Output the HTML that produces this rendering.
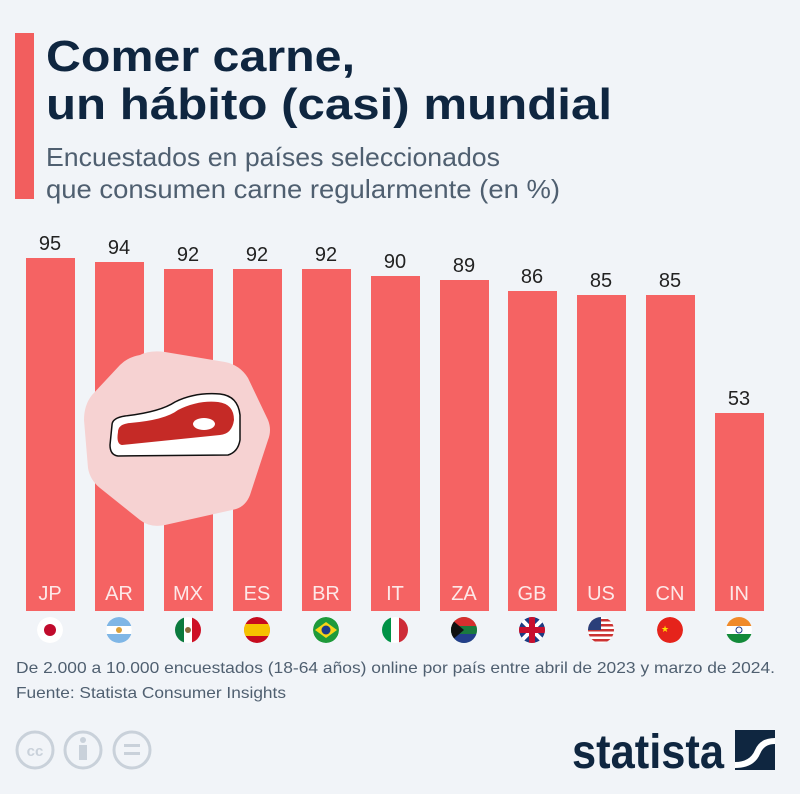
<!DOCTYPE html>
<html><head><meta charset="utf-8"><style>
body{margin:0;background:#f1f4f8;}
svg{display:block;font-family:"Liberation Sans","DejaVu Sans",sans-serif;}
</style></head><body>
<svg width="800" height="794" viewBox="0 0 800 794" xmlns="http://www.w3.org/2000/svg">
<defs>
<clipPath id="c1"><circle cx="0" cy="0" r="13"/></clipPath>
</defs>
<rect width="800" height="794" fill="#f1f4f8"/>
<rect x="15" y="33" width="19" height="166" fill="#f25e5e"/>
<text x="46" y="71" font-size="44" font-weight="bold" fill="#0f2640" textLength="309" lengthAdjust="spacingAndGlyphs">Comer carne,</text>
<text x="46" y="119" font-size="44" font-weight="bold" fill="#0f2640" textLength="566" lengthAdjust="spacingAndGlyphs">un hábito (casi) mundial</text>
<text x="46" y="166" font-size="26" fill="#4f5f70" textLength="454" lengthAdjust="spacingAndGlyphs">Encuestados en países seleccionados</text>
<text x="46" y="198" font-size="26" fill="#4f5f70" textLength="514" lengthAdjust="spacingAndGlyphs">que consumen carne regularmente (en %)</text>
<g fill="#f56363">
<rect x="26" y="258" width="49" height="353"/>
<rect x="95" y="262" width="49" height="349"/>
<rect x="164" y="269" width="49" height="342"/>
<rect x="233" y="269" width="49" height="342"/>
<rect x="302" y="269" width="49" height="342"/>
<rect x="371" y="276" width="49" height="335"/>
<rect x="440" y="280" width="49" height="331"/>
<rect x="508" y="291" width="49" height="320"/>
<rect x="577" y="295" width="49" height="316"/>
<rect x="646" y="295" width="49" height="316"/>
<rect x="715" y="413" width="49" height="198"/>
</g>
<g font-size="20" fill="#222" text-anchor="middle">
<text x="50" y="250">95</text><text x="119" y="254">94</text><text x="188" y="261">92</text>
<text x="257" y="261">92</text><text x="326" y="261">92</text><text x="395" y="268">90</text>
<text x="464" y="272">89</text><text x="532" y="283">86</text><text x="601" y="287">85</text>
<text x="670" y="287">85</text><text x="739" y="405">53</text>
</g>
<path d="M140,355 Q150,350 165,352 L225,362 Q240,365 248,378 L268,420 Q272,430 268,440 L250,495 Q245,508 232,510 L165,525 Q150,528 140,520 L100,488 Q90,480 88,468 L84,420 Q84,405 92,395 L120,365 Q128,357 140,355Z" fill="#f6d2d2"/>
<path d="M112,425 Q112,418 125,416 Q160,412 175,402 Q195,392 220,394 Q238,396 240,415 L240,440 Q238,452 228,455 L118,456 Q110,455 110,445 Z" fill="#fff" stroke="#111" stroke-width="1.5"/>
<path d="M118,432 Q118,424 130,423 Q165,420 178,410 Q198,400 218,402 Q234,404 234,420 Q232,434 220,435 L122,445 Q116,444 118,432Z" fill="#c52a26"/>
<ellipse cx="204" cy="424" rx="11" ry="6" fill="#fff"/>
<g font-size="20" fill="#fde8e8" text-anchor="middle">
<text x="50" y="600">JP</text><text x="119" y="600">AR</text><text x="188" y="600">MX</text>
<text x="257" y="600">ES</text><text x="326" y="600">BR</text><text x="395" y="600">IT</text>
<text x="464" y="600">ZA</text><text x="532" y="600">GB</text><text x="601" y="600">US</text>
<text x="670" y="600">CN</text><text x="739" y="600">IN</text>
</g>
<g transform="translate(50,630)" clip-path="url(#c1)"><circle r="13" fill="#fff"/><circle r="6" fill="#c00b2c"/></g>
<g transform="translate(119,630)" clip-path="url(#c1)"><circle r="13" fill="#7fb6e6"/><rect x="-13" y="-4" width="26" height="8" fill="#fff"/><circle r="3" fill="#d9a03a"/></g>
<g transform="translate(188,630)" clip-path="url(#c1)"><circle r="13" fill="#fff"/><rect x="-13" y="-13" width="9" height="26" fill="#0b7a3e"/><rect x="4" y="-13" width="9" height="26" fill="#ce1126"/><circle r="3" fill="#8a6a3a"/></g>
<g transform="translate(257,630)" clip-path="url(#c1)"><circle r="13" fill="#c60b1e"/><rect x="-13" y="-6" width="26" height="12" fill="#f6c200"/></g>
<g transform="translate(326,630)" clip-path="url(#c1)"><circle r="13" fill="#1e9a3a"/><polygon points="-11,0 0,-8 11,0 0,8" fill="#f7d417"/><circle r="4.5" fill="#1e3a8a"/></g>
<g transform="translate(395,630)" clip-path="url(#c1)"><circle r="13" fill="#fff"/><rect x="-13" y="-13" width="9" height="26" fill="#009246"/><rect x="4" y="-13" width="9" height="26" fill="#ce2b37"/></g>
<g transform="translate(464,630)" clip-path="url(#c1)"><circle r="13" fill="#1a7a3e"/><rect x="-13" y="-13" width="26" height="9" fill="#d62f2f"/><rect x="-13" y="4" width="26" height="9" fill="#233f8a"/><path d="M-13,-4 L13,-4 L13,4 L-13,4Z" fill="#1a7a3e"/><path d="M-13,-11 L0,0 L-13,11Z" fill="#111"/></g>
<g transform="translate(532,630)" clip-path="url(#c1)"><circle r="13" fill="#1f3b82"/><path d="M-13,-13 L13,13 M13,-13 L-13,13" stroke="#fff" stroke-width="4"/><rect x="-13" y="-3" width="26" height="6" fill="#c8102e"/><rect x="-3" y="-13" width="6" height="26" fill="#c8102e"/></g>
<g transform="translate(601,630)" clip-path="url(#c1)"><circle r="13" fill="#fff"/><g fill="#c33"><rect x="-13" y="-11" width="26" height="2.5"/><rect x="-13" y="-6" width="26" height="2.5"/><rect x="-13" y="-1" width="26" height="2.5"/><rect x="-13" y="4" width="26" height="2.5"/><rect x="-13" y="9" width="26" height="2.5"/></g><rect x="-13" y="-13" width="13" height="13" fill="#2a3f7a"/></g>
<g transform="translate(670,630)" clip-path="url(#c1)"><circle r="13" fill="#e5231b"/><text x="-5" y="2" font-size="9" fill="#ffde00" text-anchor="middle">★</text></g>
<g transform="translate(739,630)" clip-path="url(#c1)"><circle r="13" fill="#fff"/><rect x="-13" y="-13" width="26" height="9" fill="#f08a2a"/><rect x="-13" y="4" width="26" height="9" fill="#138a3a"/><circle r="3" fill="none" stroke="#1f3a8a"/></g>
<text x="16" y="673" font-size="16" fill="#4f5f70" textLength="759" lengthAdjust="spacingAndGlyphs">De 2.000 a 10.000 encuestados (18-64 años) online por país entre abril de 2023 y marzo de 2024.</text>
<text x="16" y="698" font-size="16" fill="#4f5f70" textLength="270" lengthAdjust="spacingAndGlyphs">Fuente: Statista Consumer Insights</text>
<g fill="none" stroke="#c9d1da" stroke-width="3">
<circle cx="35" cy="750" r="18"/><circle cx="83" cy="750" r="18"/><circle cx="132" cy="750" r="18"/>
</g>
<text x="35" y="756" font-size="15" font-weight="bold" fill="#c9d1da" text-anchor="middle">cc</text>
<circle cx="83" cy="740" r="3" fill="#c9d1da"/><rect x="79" y="745" width="8" height="15" fill="#c9d1da"/>
<rect x="124" y="744" width="16" height="3" fill="#c9d1da"/><rect x="124" y="752" width="16" height="3" fill="#c9d1da"/>
<text x="572" y="768" font-size="48" font-weight="bold" fill="#0f2640" textLength="152" lengthAdjust="spacingAndGlyphs">statista</text>
<rect x="735" y="730" width="40" height="40" fill="#0f2640"/>
<path d="M735,762 Q750,762 755,750 Q760,738 775,738 L775,744 Q764,744 760,754 Q754,768 735,768Z" fill="#fff"/>
</svg>
</body></html>
